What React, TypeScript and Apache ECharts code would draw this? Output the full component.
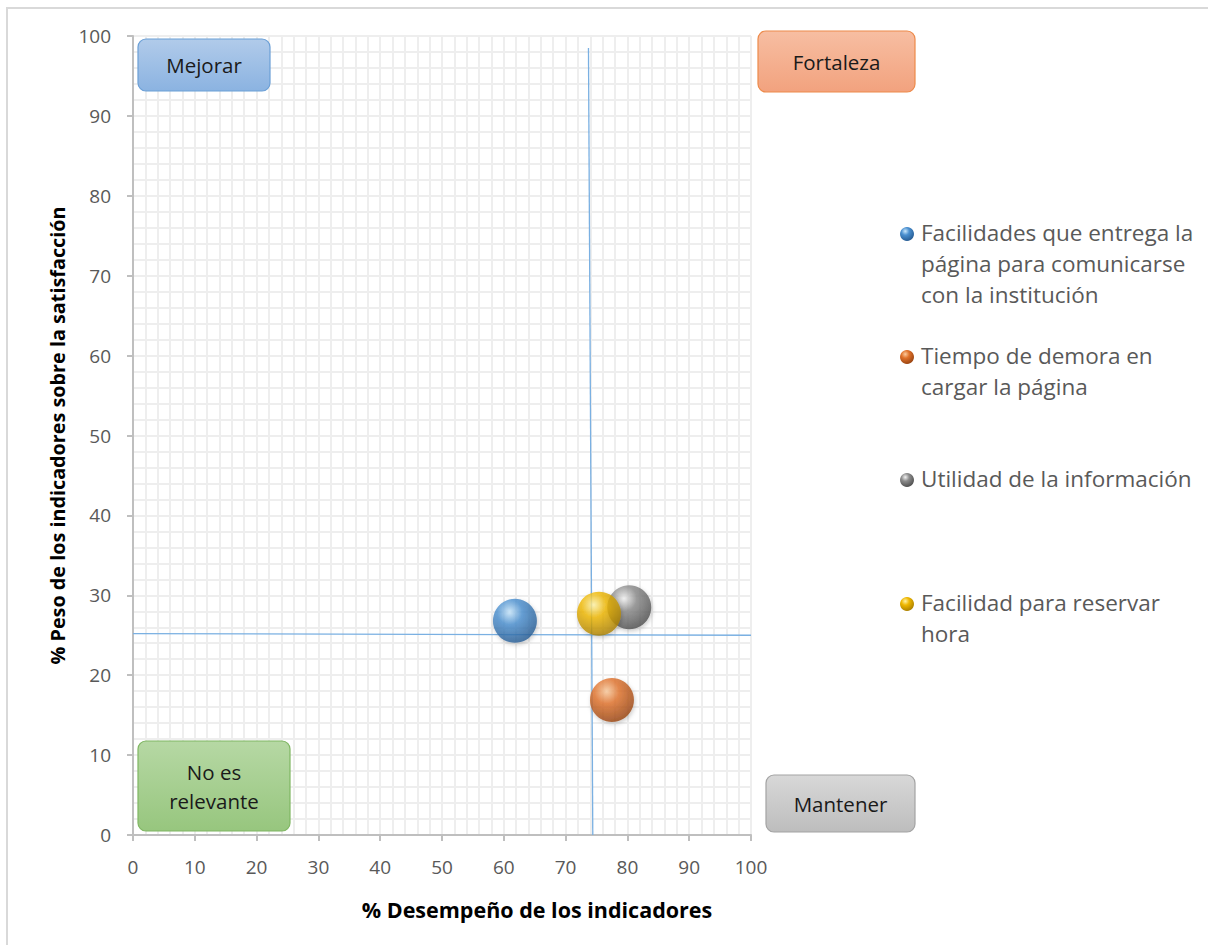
import React, { useEffect, useRef } from "react";
import * as echarts from "echarts";

const seriesNames = [
  "Facilidades que entrega la\npágina para comunicarse\ncon la institución",
  "Tiempo de demora en\ncargar la página",
  "Utilidad de la información",
  "Facilidad para reservar\nhora",
];
const desempeno = [61.8, 77.5, 80.3, 75.4];
const peso = [26.8, 16.9, 28.5, 27.7];
const baseColors = ["#4a8fcf", "#e0712a", "#8c8c8c", "#efb700"];
const lightColors = ["#c8e7fd", "#fbcb9e", "#f2f2f2", "#fff3a8"];
const darkColors = ["#24588f", "#93400f", "#4a4a4a", "#a67c00"];
const verticalLine = [[73.7, 98.5], [74.4, 0]];
const horizontalLine = [[0, 25.2], [100, 25.0]];
const quadrantLabels = ["Mejorar", "Fortaleza", "No es\nrelevante", "Mantener"];

const FONT = "'Open Sans', Lato, sans-serif";

function sphere(i: number) {
  return new echarts.graphic.RadialGradient(0.38, 0.3, 0.75, [
    { offset: 0, color: lightColors[i] },
    { offset: 0.38, color: baseColors[i] },
    { offset: 1, color: darkColors[i] },
  ]);
}

function box(x: number, y: number, w: number, h: number, top: string, bottom: string, stroke: string, text: string) {
  return {
    type: "group",
    children: [
      {
        type: "rect",
        shape: { x, y, width: w, height: h, r: 8 },
        style: {
          fill: new echarts.graphic.LinearGradient(0, 0, 0, 1, [
            { offset: 0, color: top },
            { offset: 1, color: bottom },
          ]),
          stroke,
          lineWidth: 1.2,
        },
        z: 10,
      },
      {
        type: "text",
        x: x + w / 2,
        y: y + h / 2,
        style: {
          text,
          fill: "#1a1a1a",
          font: `20.5px ${FONT}`,
          align: "center",
          verticalAlign: "middle",
          lineHeight: 29,
        },
        z: 11,
      },
    ],
  };
}

export default function App() {
  const ref = useRef<HTMLDivElement>(null);
  useEffect(() => {
    if (!ref.current) return;
    const chart = echarts.init(ref.current, undefined, { renderer: "svg" });
    const legendTops = [234, 357, 480, 604];
    const legendGraphics: any[] = [];
    seriesNames.forEach((n, i) => {
      legendGraphics.push({
        type: "circle",
        shape: { cx: 907, cy: legendTops[i], r: 7 },
        style: { fill: sphere(i) },
      });
      legendGraphics.push({
        type: "text",
        x: 921,
        y: legendTops[i] - 17,
        style: {
          text: n,
          fill: "#595959",
          font: `22.5px ${FONT}`,
          lineHeight: 31,
          verticalAlign: "top",
        },
      });
    });
    const option: any = {
      animation: false,
      backgroundColor: "#ffffff",
      grid: { left: 133, right: 457, top: 36, bottom: 110, containLabel: false },
      xAxis: {
        type: "value",
        min: 0,
        max: 100,
        interval: 10,
        name: "% Desempeño de los indicadores",
        nameLocation: "middle",
        nameGap: 63,
        nameTextStyle: {
          fontFamily: FONT,
          fontSize: 21.5,
          fontWeight: "bold",
          color: "#000",
          padding: [0, 0, 0, 190],
        },
        axisLine: { show: true, lineStyle: { color: "#bfbfbf", width: 2 } },
        axisTick: { show: true, length: 6, lineStyle: { color: "#bfbfbf", width: 2 } },
        axisLabel: { fontFamily: FONT, fontSize: 19, color: "#595959", margin: 22 },
        splitLine: { show: true, lineStyle: { color: "#eeeeee", width: 2 } },
        minorTick: { show: false, splitNumber: 5 },
        minorSplitLine: { show: true, lineStyle: { color: "#eeeeee", width: 2 } },
      },
      yAxis: {
        type: "value",
        min: 0,
        max: 100,
        interval: 10,
        name: "% Peso de los indicadores sobre la satisfacción",
        nameLocation: "middle",
        nameGap: 63,
        nameTextStyle: { fontFamily: FONT, fontSize: 19.8, fontWeight: "bold", color: "#000" },
        axisLine: { show: true, lineStyle: { color: "#bfbfbf", width: 2 } },
        axisTick: { show: true, length: 6, lineStyle: { color: "#bfbfbf", width: 2 } },
        axisLabel: { fontFamily: FONT, fontSize: 19, color: "#595959", margin: 22 },
        splitLine: { show: true, lineStyle: { color: "#eeeeee", width: 2 } },
        minorTick: { show: false, splitNumber: 5 },
        minorSplitLine: { show: true, lineStyle: { color: "#eeeeee", width: 2 } },
      },
      series: [
        {
          type: "line",
          data: verticalLine,
          symbol: "none",
          lineStyle: { color: "#7ab0e2", width: 1.3 },
          z: 1,
          silent: true,
        },
        {
          type: "line",
          data: horizontalLine,
          symbol: "none",
          lineStyle: { color: "#7ab0e2", width: 1.3 },
          z: 1,
          silent: true,
        },
        ...seriesNames.map((n, i) => ({
          type: "scatter",
          name: n,
          data: [[desempeno[i], peso[i]]],
          symbolSize: 44,
          itemStyle: {
            color: sphere(i),
            shadowColor: "rgba(0,0,0,0.25)",
            shadowBlur: 4,
            shadowOffsetX: 1,
            shadowOffsetY: 2,
          },
          z: 3,
        })),
      ],
      graphic: [
        {
          type: "polyline",
          shape: { points: [[7, 945], [7, 8], [1208, 8]] },
          style: { stroke: "#d9d9d9", lineWidth: 2, fill: "none" },
        },
        box(138, 39, 132, 52, "#b1cbea", "#8bb3e1", "#6b9fd6", quadrantLabels[0]),
        box(758, 31, 157, 61, "#f7bea2", "#f2a27e", "#ed8a4a", quadrantLabels[1]),
        box(138, 741, 152, 90, "#b6d8a4", "#97c67e", "#7fb662", quadrantLabels[2]),
        box(766, 775, 149, 57, "#d8d8d8", "#bdbdbd", "#a3a3a3", quadrantLabels[3]),
        ...legendGraphics,
      ],
    };
    chart.setOption(option);
    return () => chart.dispose();
  }, []);
  return (
    <div
      ref={ref}
      style={{ position: "fixed", left: 0, top: 0, width: 1208, height: 945, background: "#fff" }}
    />
  );
}
